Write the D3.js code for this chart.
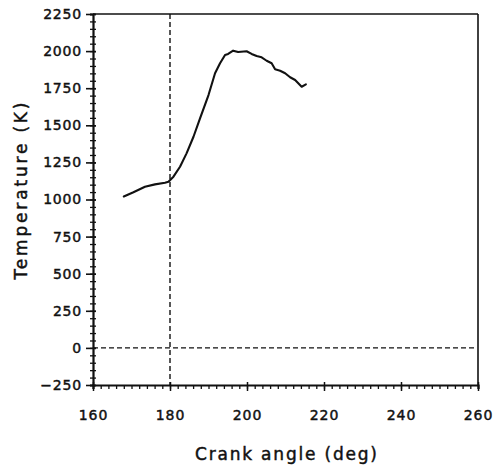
<!DOCTYPE html>
<html>
<head>
<meta charset="utf-8">
<script src="https://cdn.jsdelivr.net/npm/d3@7"></script>
<style>
  html, body { margin: 0; padding: 0; background: #fff; }
  svg text { font-family: "DejaVu Sans", Verdana, sans-serif; fill: #111; stroke: #111; stroke-width: 0.45px; }
</style>
</head>
<body>
<svg id="chart" width="493" height="470"></svg>
<script>
// Data
const crankAngle = [168.0, 170.5, 173.5, 176.1, 178.7, 179.6, 180.9, 182.6, 184.3, 186.1, 187.8, 190.0, 191.7, 193.0, 194.3, 195.1, 196.4, 197.7, 199.9, 201.2, 202.5, 203.8, 205.1, 206.4, 207.3, 208.6, 209.9, 211.2, 212.5, 214.2, 215.3];
const temperature = [1020, 1049, 1086, 1102, 1113, 1120, 1154, 1221, 1311, 1423, 1547, 1704, 1851, 1918, 1974, 1981, 2003, 1994, 1999, 1981, 1967, 1958, 1935, 1918, 1877, 1868, 1851, 1824, 1805, 1760, 1776];
const xTicks = [160, 180, 200, 220, 240, 260];
const yTicks = [-250, 0, 250, 500, 750, 1000, 1250, 1500, 1750, 2000, 2250];
const xMinorStep = 2;
const yMinorStep = 50;
const refAngle = 180;
const refTemp = 0;
const xTitle = "Crank angle (deg)";
const yTitle = "Temperature (K)";

const svg = d3.select("#chart");
const mLeft = 93, mRight = 478, mTop = 14, mBottom = 385;
const x = d3.scaleLinear().domain([160, 260]).range([mLeft, mRight]);
const y = d3.scaleLinear().domain([-250, 2250]).range([mBottom, mTop]);

// frame top and right
svg.append("line").attr("x1", mLeft).attr("x2", mRight).attr("y1", mTop).attr("y2", mTop)
  .attr("stroke", "#111").attr("stroke-width", 1.6);
svg.append("line").attr("x1", mRight).attr("x2", mRight).attr("y1", mTop).attr("y2", mBottom)
  .attr("stroke", "#111").attr("stroke-width", 1.6);

// X axis
const xMinor = d3.range(160, 260 + 0.001, xMinorStep);
const gx = svg.append("g").attr("transform", `translate(0,${mBottom})`)
  .call(d3.axisBottom(x).tickValues(xMinor).tickSize(4).tickFormat(""));
gx.select(".domain").attr("stroke", "#111").attr("stroke-width", 2.2);
gx.selectAll(".tick line").attr("stroke", "#111").attr("stroke-width", 1.3);
const gx2 = svg.append("g").attr("transform", `translate(0,${mBottom})`)
  .call(d3.axisBottom(x).tickValues(xTicks).tickSize(6).tickPadding(19).tickFormat(d3.format("d")));
gx2.select(".domain").remove();
gx2.selectAll(".tick line").attr("stroke", "#111").attr("stroke-width", 1.5).attr("y1", -3);
gx2.selectAll(".tick text").attr("font-size", 14).attr("letter-spacing", 1)
  .style("font-family", "'DejaVu Sans', sans-serif").attr("fill", "#111");

// Y axis
const yMinor = d3.range(-250, 2250 + 0.001, yMinorStep);
const gy = svg.append("g").attr("transform", `translate(${mLeft},0)`)
  .call(d3.axisLeft(y).tickValues(yMinor).tickSize(3).tickFormat(""));
gy.select(".domain").attr("stroke", "#111").attr("stroke-width", 2.2);
gy.selectAll(".tick line").attr("stroke", "#111").attr("stroke-width", 1.3).attr("x2", -3).attr("x1", 3);
const gy2 = svg.append("g").attr("transform", `translate(${mLeft},0)`)
  .call(d3.axisLeft(y).tickValues(yTicks).tickSize(7).tickPadding(4)
    .tickFormat(d => d < 0 ? "\u2212" + Math.abs(d) : String(d)));
gy2.select(".domain").remove();
gy2.selectAll(".tick line").attr("stroke", "#111").attr("stroke-width", 1.6).attr("x1", 3);
gy2.selectAll(".tick text").attr("font-size", 14).attr("letter-spacing", 0.8)
  .style("font-family", "'DejaVu Sans', sans-serif").attr("fill", "#111");

// Reference dashed lines
svg.append("line").attr("x1", x(refAngle)).attr("x2", x(refAngle)).attr("y1", mTop).attr("y2", mBottom)
  .attr("stroke", "#111").attr("stroke-width", 1.4).attr("stroke-dasharray", "5,3");
svg.append("line").attr("x1", mLeft).attr("x2", mRight - 2).attr("y1", y(refTemp)).attr("y2", y(refTemp))
  .attr("stroke", "#111").attr("stroke-width", 1.4).attr("stroke-dasharray", "5,3");

// Curve
const pts = crankAngle.map((a, i) => [a, temperature[i]]);
svg.append("path").datum(pts)
  .attr("fill", "none").attr("stroke", "#111").attr("stroke-width", 2.1)
  .attr("stroke-linejoin", "round").attr("stroke-linecap", "round")
  .attr("d", d3.line().x(d => x(d[0])).y(d => y(d[1])));

// Titles
svg.append("text").attr("x", 286).attr("y", 460).attr("text-anchor", "middle")
  .attr("font-size", 17).attr("textLength", 182).attr("lengthAdjust", "spacing")
  .text(xTitle);
svg.append("text").attr("transform", "translate(27,191) rotate(-90)").attr("text-anchor", "middle")
  .attr("font-size", 17).attr("textLength", 177).attr("lengthAdjust", "spacing")
  .text(yTitle);
</script>
</body>
</html>
